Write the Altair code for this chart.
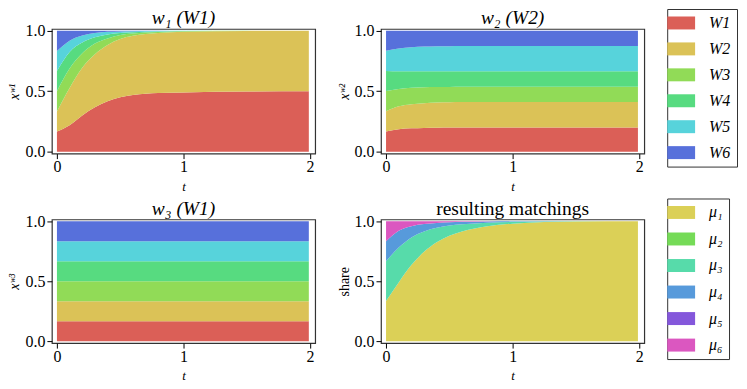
import altair as alt
import pandas as pd

FONT = "Liberation Serif"

# time grid (shared by all panels)
t = [0.0, 0.1, 0.2, 0.3, 0.4, 0.5, 0.6, 0.8, 1.0, 1.5, 1.99]

names_w = ["W1", "W2", "W3", "W4", "W5", "W6"]
colors_w = ["#db5f57", "#dbc257", "#91db57", "#57db80", "#57d3db", "#5770db"]
names_mu = ["μ₁", "μ₂", "μ₃", "μ₄", "μ₅", "μ₆"]
colors_mu = ["#dbd057", "#75db57", "#57dbaa", "#579adb", "#8457db", "#db57c0"]

# panel 1: w1 (W1)
w1_W1 = [0.167, 0.219, 0.300, 0.368, 0.417, 0.450, 0.468, 0.485, 0.490, 0.497, 0.500]
w1_W2 = [0.166, 0.308, 0.395, 0.438, 0.466, 0.482, 0.490, 0.496, 0.501, 0.502, 0.500]
w1_W3 = [0.167, 0.161, 0.119, 0.088, 0.054, 0.034, 0.020, 0.009, 0.005, 0.001, 0.000]
w1_W4 = [0.167, 0.137, 0.089, 0.052, 0.032, 0.015, 0.010, 0.005, 0.002, 0.000, 0.000]
w1_W5 = [0.166, 0.093, 0.057, 0.035, 0.022, 0.014, 0.009, 0.004, 0.002, 0.000, 0.000]
w1_W6 = [0.167, 0.082, 0.040, 0.019, 0.009, 0.005, 0.003, 0.001, 0.000, 0.000, 0.000]

# panel 2: w2 (W2)
w2_W1 = [0.167, 0.185, 0.193, 0.196, 0.198, 0.199, 0.200, 0.200, 0.200, 0.200, 0.200]
w2_W2 = [0.167, 0.190, 0.200, 0.205, 0.208, 0.209, 0.210, 0.210, 0.210, 0.210, 0.210]
w2_W3 = [0.167, 0.144, 0.135, 0.131, 0.128, 0.127, 0.126, 0.126, 0.126, 0.126, 0.126]
w2_W4 = [0.167, 0.146, 0.137, 0.133, 0.131, 0.130, 0.129, 0.129, 0.129, 0.129, 0.129]
w2_W5 = [0.166, 0.189, 0.199, 0.204, 0.207, 0.208, 0.209, 0.209, 0.209, 0.209, 0.209]
w2_W6 = [0.166, 0.146, 0.136, 0.131, 0.128, 0.127, 0.126, 0.126, 0.126, 0.126, 0.126]

# panel 3: w3 (W1)
w3_W1 = [0.167, 0.167, 0.167, 0.167, 0.167, 0.167, 0.167, 0.167, 0.167, 0.167, 0.167]
w3_W2 = [0.166, 0.166, 0.166, 0.166, 0.166, 0.166, 0.166, 0.166, 0.166, 0.166, 0.166]
w3_W3 = [0.167, 0.167, 0.167, 0.167, 0.167, 0.167, 0.167, 0.167, 0.167, 0.167, 0.167]
w3_W4 = [0.167, 0.167, 0.167, 0.167, 0.167, 0.167, 0.167, 0.167, 0.167, 0.167, 0.167]
w3_W5 = [0.166, 0.166, 0.166, 0.166, 0.166, 0.166, 0.166, 0.166, 0.166, 0.166, 0.166]
w3_W6 = [0.167, 0.167, 0.167, 0.167, 0.167, 0.167, 0.167, 0.167, 0.167, 0.167, 0.167]

# panel 4: resulting matchings
mu_1 = [0.335, 0.490, 0.635, 0.745, 0.825, 0.880, 0.915, 0.958, 0.980, 0.997, 1.000]
mu_2 = [0.000, 0.000, 0.000, 0.000, 0.000, 0.000, 0.000, 0.000, 0.000, 0.000, 0.000]
mu_3 = [0.332, 0.290, 0.230, 0.170, 0.120, 0.085, 0.060, 0.030, 0.015, 0.003, 0.000]
mu_4 = [0.166, 0.140, 0.093, 0.061, 0.041, 0.027, 0.020, 0.010, 0.005, 0.000, 0.000]
mu_5 = [0.000, 0.000, 0.000, 0.000, 0.000, 0.000, 0.000, 0.000, 0.000, 0.000, 0.000]
mu_6 = [0.167, 0.080, 0.042, 0.024, 0.014, 0.008, 0.005, 0.002, 0.000, 0.000, 0.000]


def make_df(series, names):
    rows = []
    for i, (name, vals) in enumerate(zip(names, series)):
        for tt, v in zip(t, vals):
            rows.append({"t": tt, "series": name, "idx": i, "value": v})
    return pd.DataFrame(rows)


RECT = "M-2.15,-1L2.15,-1L2.15,1L-2.15,1Z"


def make_legend(y, row_pad):
    return alt.Legend(
        title=None, orient="none", legendX=0, legendY=y,
        symbolType=RECT, symbolSize=169, symbolStrokeWidth=0, symbolOpacity=1,
        labelFont=FONT, labelFontSize=16, labelFontStyle="italic",
        labelColor="black", labelOffset=20,
        strokeColor="#333", fillColor="white", padding=6, rowPadding=row_pad,
    )


def panel(df, title, title_italic, ytitle, y_italic, names, colors, h):
    return alt.Chart(df).mark_area(interpolate="monotone", opacity=1).encode(
        x=alt.X("t:Q", scale=alt.Scale(domain=[-0.04, 2.04], nice=False, zero=False),
                axis=alt.Axis(tickCount=3, tickMinStep=1, format="d", title="t",
                              titleFontStyle="italic", labelOverlap=False, labelFlush=False)),
        y=alt.Y("value:Q", stack="zero",
                scale=alt.Scale(domain=[-0.016, 1.015], nice=False, zero=False),
                axis=alt.Axis(values=[0, 0.5, 1], tickCount=3, format=".1f", title=ytitle,
                              labelOverlap=False, labelFlush=False,
                              titleFontStyle="italic" if y_italic else "normal")),
        color=alt.Color("series:N", scale=alt.Scale(domain=names, range=colors), legend=None),
        order=alt.Order("idx:Q", sort="ascending"),
    ).properties(
        width=264, height=h,
        title=alt.TitleParams(title, font=FONT, fontSize=19.5, fontWeight="normal",
                              fontStyle="italic" if title_italic else "normal", offset=-6,
                              color="black"),
    )


def legend_chart(df, names, colors, y, row_pad, h):
    return alt.Chart(df).mark_square(opacity=0).encode(
        x=alt.value(10), y=alt.value(60),
        color=alt.Color("series:N", scale=alt.Scale(domain=names, range=colors),
                        legend=make_legend(y, row_pad)),
    ).properties(width=1, height=h, view=alt.ViewConfig(stroke="transparent"))


df1 = make_df([w1_W1, w1_W2, w1_W3, w1_W4, w1_W5, w1_W6], names_w)
df2 = make_df([w2_W1, w2_W2, w2_W3, w2_W4, w2_W5, w2_W6], names_w)
df3 = make_df([w3_W1, w3_W2, w3_W3, w3_W4, w3_W5, w3_W6], names_w)
df4 = make_df([mu_1, mu_2, mu_3, mu_4, mu_5, mu_6], names_mu)

p1 = panel(df1, "w₁ (W1)", True, "xʷ¹", True, names_w, colors_w, 125)
p2 = panel(df2, "w₂ (W2)", True, "xʷ²", True, names_w, colors_w, 125)
l1 = legend_chart(df2, names_w, colors_w, -20, 10, 125)
p3 = panel(df3, "w₃ (W1)", True, "xʷ³", True, names_w, colors_w, 124)
p4 = panel(df4, "resulting matchings", False, "share", False, names_mu, colors_mu, 124)
l2 = legend_chart(df4, names_mu, colors_mu, -21, 10.6, 124)

row1 = alt.hconcat(p1, p2, l1, spacing=20).resolve_scale(color="independent")
row2 = alt.hconcat(p3, p4, l2, spacing=20).resolve_scale(color="independent")
chart = alt.vconcat(row1, row2, spacing=2).resolve_scale(color="independent").properties(
    padding={"top": -1.5, "left": -1, "right": 0, "bottom": 0}, background="white"
).configure_view(stroke="#333", strokeWidth=1.2).configure_axis(
    domain=False, grid=False, ticks=True, tickColor="black", tickSize=5, tickWidth=1,
    labelFont=FONT, labelFontSize=16, labelColor="black",
    titleFont=FONT, titleFontWeight="normal", titleColor="black",
).configure_axisX(
    labelPadding=0, titlePadding=5.5, titleFontSize=13,
).configure_axisY(
    labelPadding=2, titlePadding=3, titleFontSize=14,
)

chart.save("out.html", embed_options={"renderer": "svg", "actions": False})
